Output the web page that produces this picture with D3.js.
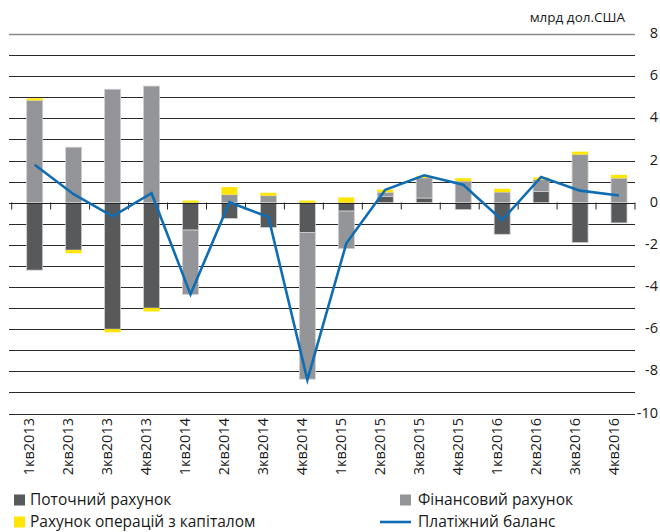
<!DOCTYPE html>
<html><head><meta charset="utf-8">
<script src="https://cdn.jsdelivr.net/npm/d3@7"></script>
<style>body{margin:0;background:#fff}svg{display:block}text{font-family:"Open Sans",Lato,sans-serif;fill:#1a1a1a}</style>
</head><body>
<svg id="c" width="660" height="532"></svg>
<script>
const quarters = ["1кв2013","2кв2013","3кв2013","4кв2013","1кв2014","2кв2014","3кв2014","4кв2014","1кв2015","2кв2015","3кв2015","4кв2015","1кв2016","2кв2016","3кв2016","4кв2016"];
const currentAccount = [-3.2,-2.25,-6.0,-5.0,-1.3,-0.75,-1.18,-1.42,-0.4,0.3,0.22,-0.33,-1.5,0.53,-1.89,-0.96];
const financialAccount = [4.85,2.63,5.38,5.53,-3.05,0.38,0.33,-6.95,-1.78,0.19,0.95,1.02,0.5,0.56,2.28,1.16];
const capitalAccount = [0.1,-0.15,-0.15,-0.16,0.1,0.36,0.14,0.1,0.25,0.13,0.1,0.14,0.16,0.11,0.14,0.16];
const balance = [1.8,0.4,-0.65,0.45,-4.35,0.02,-0.68,-8.4,-1.93,0.61,1.3,0.85,-0.83,1.22,0.57,0.34];
const yTicks = [-10,-8,-6,-4,-2,0,2,4,6,8];
const gridValues = d3.range(-10, 9, 1);
const unitLabel = "млрд дол.США";
const seriesNames = ["Поточний рахунок","Фінансовий рахунок","Рахунок операцій з капіталом","Платіжний баланс"];
const colors = {cur:"#58595b", fin:"#939598", cap:"#ffe500", line:"#0f6db4"};

const svg = d3.select("#c");
const x = d3.scaleBand().domain(quarters).range([11.7, 635]).padding(0);
const y = d3.scaleLinear().domain([-10, 8]).range([413.5, 34]);
const barW = 16, barShift = 3.5;

// gridlines
svg.append("g").selectAll("line").data(gridValues).join("line")
  .attr("x1", 9).attr("x2", 635)
  .attr("y1", d => Math.round(y(d)) + 0.5).attr("y2", d => Math.round(y(d)) + 0.5)
  .attr("stroke", d => d === 8 ? "#8a8a8a" : "#2a2a2a").attr("stroke-width", d => d === 8 ? 1.6 : 1);

// stacked bars
const rows = quarters.map((q, i) => ({q, vals: [["cur", currentAccount[i]], ["fin", financialAccount[i]], ["cap", capitalAccount[i]]]}));
const rects = [];
rows.forEach(r => {
  let pos = 0, neg = 0;
  r.vals.forEach(([k, v]) => {
    let y0, y1;
    if (v >= 0) { y0 = pos; y1 = pos + v; pos = y1; } else { y0 = neg; y1 = neg + v; neg = y1; }
    rects.push({q: r.q, k, y0, y1});
  });
});
svg.append("g").selectAll("rect").data(rects).join("rect")
  .attr("x", d => x(d.q) + x.bandwidth() / 2 + barShift - barW / 2)
  .attr("width", barW)
  .attr("y", d => y(Math.max(d.y0, d.y1)))
  .attr("height", d => Math.abs(y(d.y0) - y(d.y1)))
  .attr("fill", d => colors[d.k])
  .attr("stroke", d => d.k === "cap" ? "none" : "#cfcfd1").attr("stroke-width", 0.8);

// x axis ticks
const y0px = Math.round(y(0)) + 0.5;
const tickPos = quarters.map(q => x(q)).concat([x.range()[1]]);
svg.append("g").selectAll("line").data(tickPos).join("line")
  .attr("x1", d => d).attr("x2", d => d).attr("y1", y0px - 1).attr("y2", y0px + 6)
  .attr("stroke", "#222").attr("stroke-width", 1);
svg.append("line").attr("x1", 9).attr("x2", 635).attr("y1", y0px).attr("y2", y0px).attr("stroke", "#222").attr("stroke-width", 1.2);

// balance line
svg.append("path").datum(balance)
  .attr("d", d3.line().x((d, i) => x(quarters[i]) + x.bandwidth() / 2 + barShift).y(d => y(d)))
  .attr("fill", "none").attr("stroke", colors.line).attr("stroke-width", 2.6).attr("stroke-linejoin", "miter");

// y labels
svg.append("g").selectAll("text").data(yTicks).join("text")
  .attr("x", 658).attr("y", d => y(d) - 1).attr("dy", "0.35em").attr("text-anchor", "end")
  .attr("font-size", 14.5).text(d => d);

// x labels
svg.append("g").selectAll("text").data(quarters).join("text")
  .attr("transform", d => `translate(${x(d) + x.bandwidth() / 2 - 2},418) rotate(-90)`)
  .attr("text-anchor", "end").attr("dy", "0.35em").attr("font-size", 14.5).text(d => d);

// unit
svg.append("text").attr("x", 625).attr("y", 22).attr("text-anchor", "end").attr("font-size", 13.5).text(unitLabel);

// legend
const leg = svg.append("g");
const items = [
  {name: seriesNames[0], type: "rect", c: colors.cur, lx: 14, tx: 30, cy: 500},
  {name: seriesNames[1], type: "rect", c: colors.fin, lx: 400, tx: 418, cy: 500},
  {name: seriesNames[2], type: "rect", c: colors.cap, lx: 14, tx: 30, cy: 522},
  {name: seriesNames[3], type: "line", c: colors.line, lx: 380, tx: 418, cy: 522}
];
items.forEach(it => {
  if (it.type === "rect") leg.append("rect").attr("x", it.lx).attr("y", it.cy - 5.5).attr("width", 11).attr("height", 11).attr("fill", it.c);
  else leg.append("line").attr("x1", it.lx).attr("x2", it.lx + 31).attr("y1", it.cy).attr("y2", it.cy).attr("stroke", it.c).attr("stroke-width", 2.6);
  leg.append("text").attr("x", it.tx).attr("y", it.cy).attr("dy", "0.35em").attr("font-size", 15.5).text(it.name);
});
</script>
</body></html>
